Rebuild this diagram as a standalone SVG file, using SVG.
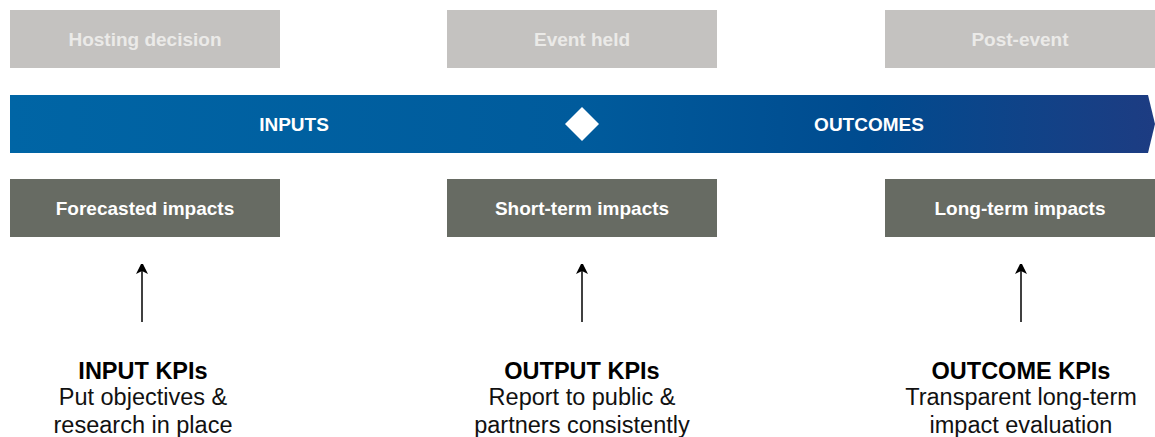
<svg xmlns="http://www.w3.org/2000/svg" width="1155" height="437" viewBox="0 0 1155 437">
<style>
.phase{fill:#c4c2c0}
.phaseT{fill:#ebeae8;font:bold 19px "Liberation Sans",Arial,sans-serif;text-anchor:middle}
.impact{fill:#676b63}
.impactT{fill:#ffffff;font:bold 19px "Liberation Sans",Arial,sans-serif;text-anchor:middle}
.barT{fill:#ffffff;font:bold 19px "Liberation Sans",Arial,sans-serif;text-anchor:middle}
.kpiH{fill:#000;font:bold 23.5px "Liberation Sans",Arial,sans-serif;text-anchor:middle}
.kpiT{fill:#111;font:23.5px "Liberation Sans",Arial,sans-serif;text-anchor:middle}
.conn{stroke:#000;stroke-width:1.5;fill:none;marker-end:url(#ah)}
</style>
<defs>
<linearGradient id="barG" x1="0" y1="0" x2="1" y2="0">
<stop offset="0" stop-color="#0065a5"/>
<stop offset="0.5" stop-color="#005b9c"/>
<stop offset="0.75" stop-color="#004b8f"/>
<stop offset="1" stop-color="#1d3c82"/>
</linearGradient>
<marker id="ah" viewBox="0 0 10 12" refX="9" refY="6" markerWidth="10" markerHeight="12" markerUnits="userSpaceOnUse" orient="auto">
<path d="M0,0 L12,6 L0,12 L3,6 Z" fill="#000"/>
</marker>
</defs>
<g id="hosting-decision"><rect class="phase" x="10" y="10" width="270" height="58"/><text class="phaseT" x="145" y="46">Hosting decision</text></g>
<g id="event-held"><rect class="phase" x="447" y="10" width="270" height="58"/><text class="phaseT" x="582" y="46">Event held</text></g>
<g id="post-event"><rect class="phase" x="885" y="10" width="270" height="58"/><text class="phaseT" x="1020" y="46">Post-event</text></g>
<g id="timeline-bar">
<path d="M10,95 H1148 L1155,124 L1148,153 H10 Z" fill="url(#barG)"/>
<text class="barT" x="294" y="131">INPUTS</text>
<text class="barT" x="869" y="131">OUTCOMES</text>
<path d="M582,107 L599,124 L582,141 L565,124 Z" fill="#ffffff"/>
</g>
<g id="forecasted-impacts"><rect class="impact" x="10" y="179" width="270" height="58"/><text class="impactT" x="145" y="215">Forecasted impacts</text></g>
<g id="short-term-impacts"><rect class="impact" x="447" y="179" width="270" height="58"/><text class="impactT" x="582" y="215">Short-term impacts</text></g>
<g id="long-term-impacts"><rect class="impact" x="885" y="179" width="270" height="58"/><text class="impactT" x="1020" y="215">Long-term impacts</text></g>
<g id="connectors">
<line class="conn" x1="142" y1="322" x2="142" y2="265"/>
<line class="conn" x1="582" y1="322" x2="582" y2="265"/>
<line class="conn" x1="1021" y1="322" x2="1021" y2="265"/>
</g>
<g id="input-kpis"><text class="kpiH" x="143" y="379">INPUT KPIs</text><text class="kpiT" x="143" y="405">Put objectives &amp;</text><text class="kpiT" x="143" y="433">research in place</text></g>
<g id="output-kpis"><text class="kpiH" x="582" y="379">OUTPUT KPIs</text><text class="kpiT" x="582" y="405">Report to public &amp;</text><text class="kpiT" x="582" y="433">partners consistently</text></g>
<g id="outcome-kpis"><text class="kpiH" x="1021" y="379">OUTCOME KPIs</text><text class="kpiT" x="1021" y="405">Transparent long-term</text><text class="kpiT" x="1021" y="433">impact evaluation</text></g>
</svg>
